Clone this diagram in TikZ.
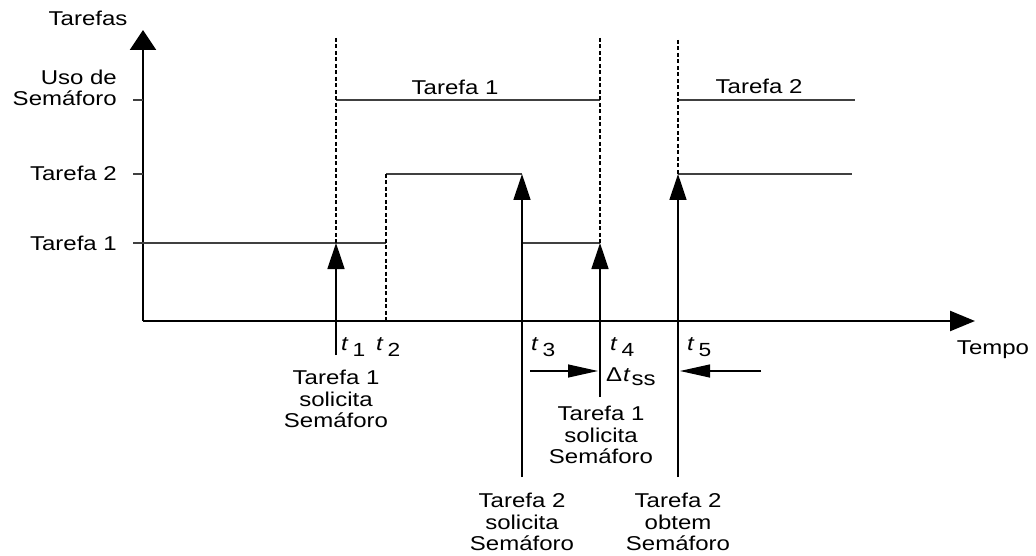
\documentclass[tikz,border=0pt]{standalone}
\usepackage{fontspec}
\setmainfont{Liberation Sans}[FakeStretch=1.2]
\usetikzlibrary{arrows.meta}
% time mark: italic t with a lowered index
\newcommand{\tmark}[1]{\textit{t}\hspace{4pt}\raisebox{-6pt}{\fontsize{19}{19}\selectfont #1}}
\begin{document}
\begin{tikzpicture}[x=1pt,y=-1pt,
  font=\fontsize{20}{21.5}\selectfont,
  txt/.style={inner sep=0pt, align=center},
  axis/.style={line width=2.4pt, black},
  lvl/.style={line width=1.2pt, black!75},
  guide/.style={line width=1.1pt, black, dash pattern=on 4pt off 2.5pt},
  req/.style={line width=1.4pt, black, -{Triangle[length=26pt,width=17pt]}},
  span/.style={line width=1.2pt, black, -{Triangle[length=30pt,width=13pt]}}]
\useasboundingbox (0,0) rectangle (1036,556);

% axes
\coordinate (O) at (143,321);
\coordinate (ytop) at (143,30);
\coordinate (xend) at (975,321);
\draw[axis, -{Triangle[length=20pt,width=26pt]}] (O) -- (ytop);
\draw[axis, -{Triangle[length=25pt,width=20pt]}] (O) -- (xend);

% level ticks
\foreach \n/\yy in {uso/100, ta2/174, ta1/243}{
  \coordinate (tk\n) at (133,\yy);
  \coordinate (ax\n) at (143,\yy);
  \draw[line width=1.2pt, black!75] (tk\n) -- (ax\n);
}

% axis labels
\node[txt] (lTarefas) at (88,18) {Tarefas};
\node[txt, anchor=east, align=right] (lUso) at (117,88) {Uso de\\Semáforo};
\node[txt, anchor=east] (lT2) at (117,173) {Tarefa 2};
\node[txt, anchor=east] (lT1) at (117,243) {Tarefa 1};
\node[txt] (lTempo) at (993,350) {Tempo};

% event instants
\coordinate (g1top) at (336,38);
\coordinate (g1) at (336,243);
\coordinate (b1) at (336,355);
\coordinate (g2top) at (386,174);
\coordinate (g2) at (386,321);
\coordinate (a3) at (522,174);
\coordinate (b3) at (522,477);
\coordinate (g4top) at (600,38);
\coordinate (g4) at (600,243);
\coordinate (b4) at (600,397);
\coordinate (g5top) at (678,40);
\coordinate (a5) at (678,174);
\coordinate (b5) at (678,477);

% task levels
\draw[lvl] (axta1) -- (386,243);
\draw[lvl] (g2top) -- (a3);
\draw[lvl] (522,243) -- (g4);
\draw[lvl] (336,100) -- (600,100);
\draw[lvl] (678,100) -- (855,100);
\draw[lvl] (a5) -- (852,174);

% dashed guides
\draw[guide] (g1top) -- (g1);
\draw[guide] (g2top) -- (g2);
\draw[guide] (g4top) -- (g4);
\draw[guide] (g5top) -- (a5);

% requests
\draw[req] (b1) -- (g1);
\draw[req] (b3) -- (a3);
\draw[req] (b4) -- (g4);
\draw[req] (b5) -- (a5);

% semaphore usage labels
\node[txt] (u1) at (455,87) {Tarefa 1};
\node[txt] (u2) at (759,86) {Tarefa 2};

% time marks
\node[anchor=base west, inner sep=0pt] (t1) at (341,350) {\tmark{1}};
\node[anchor=base west, inner sep=0pt] (t2) at (376,350) {\tmark{2}};
\node[anchor=base west, inner sep=0pt] (t3) at (531,350) {\tmark{3}};
\node[anchor=base west, inner sep=0pt] (t4) at (610,350) {\tmark{4}\,};
\node[anchor=base west, inner sep=0pt] (t5) at (687,350) {\tmark{5}};

% switching interval
\coordinate (s3) at (530,371);
\coordinate (s4) at (598,371);
\coordinate (s5r) at (761,371);
\coordinate (s5) at (680,371);
\draw[span] (s3) -- (s4);
\draw[span] (s5r) -- (s5);
\node[anchor=base west, inner sep=0pt] (dts) at (606,381)
  {Δ\hspace{1pt}\textit{t}\hspace{1pt}\raisebox{-4pt}{ss}};

% event descriptions
\node[txt] (e1) at (336,399) {Tarefa 1\\solicita\\Semáforo};
\node[txt] (e4) at (601,435) {Tarefa 1\\solicita\\Semáforo};
\node[txt] (e3) at (522,522) {Tarefa 2\\solicita\\Semáforo};
\node[txt] (e5) at (678,522) {Tarefa 2\\obtem\\Semáforo};
\end{tikzpicture}
\end{document}
